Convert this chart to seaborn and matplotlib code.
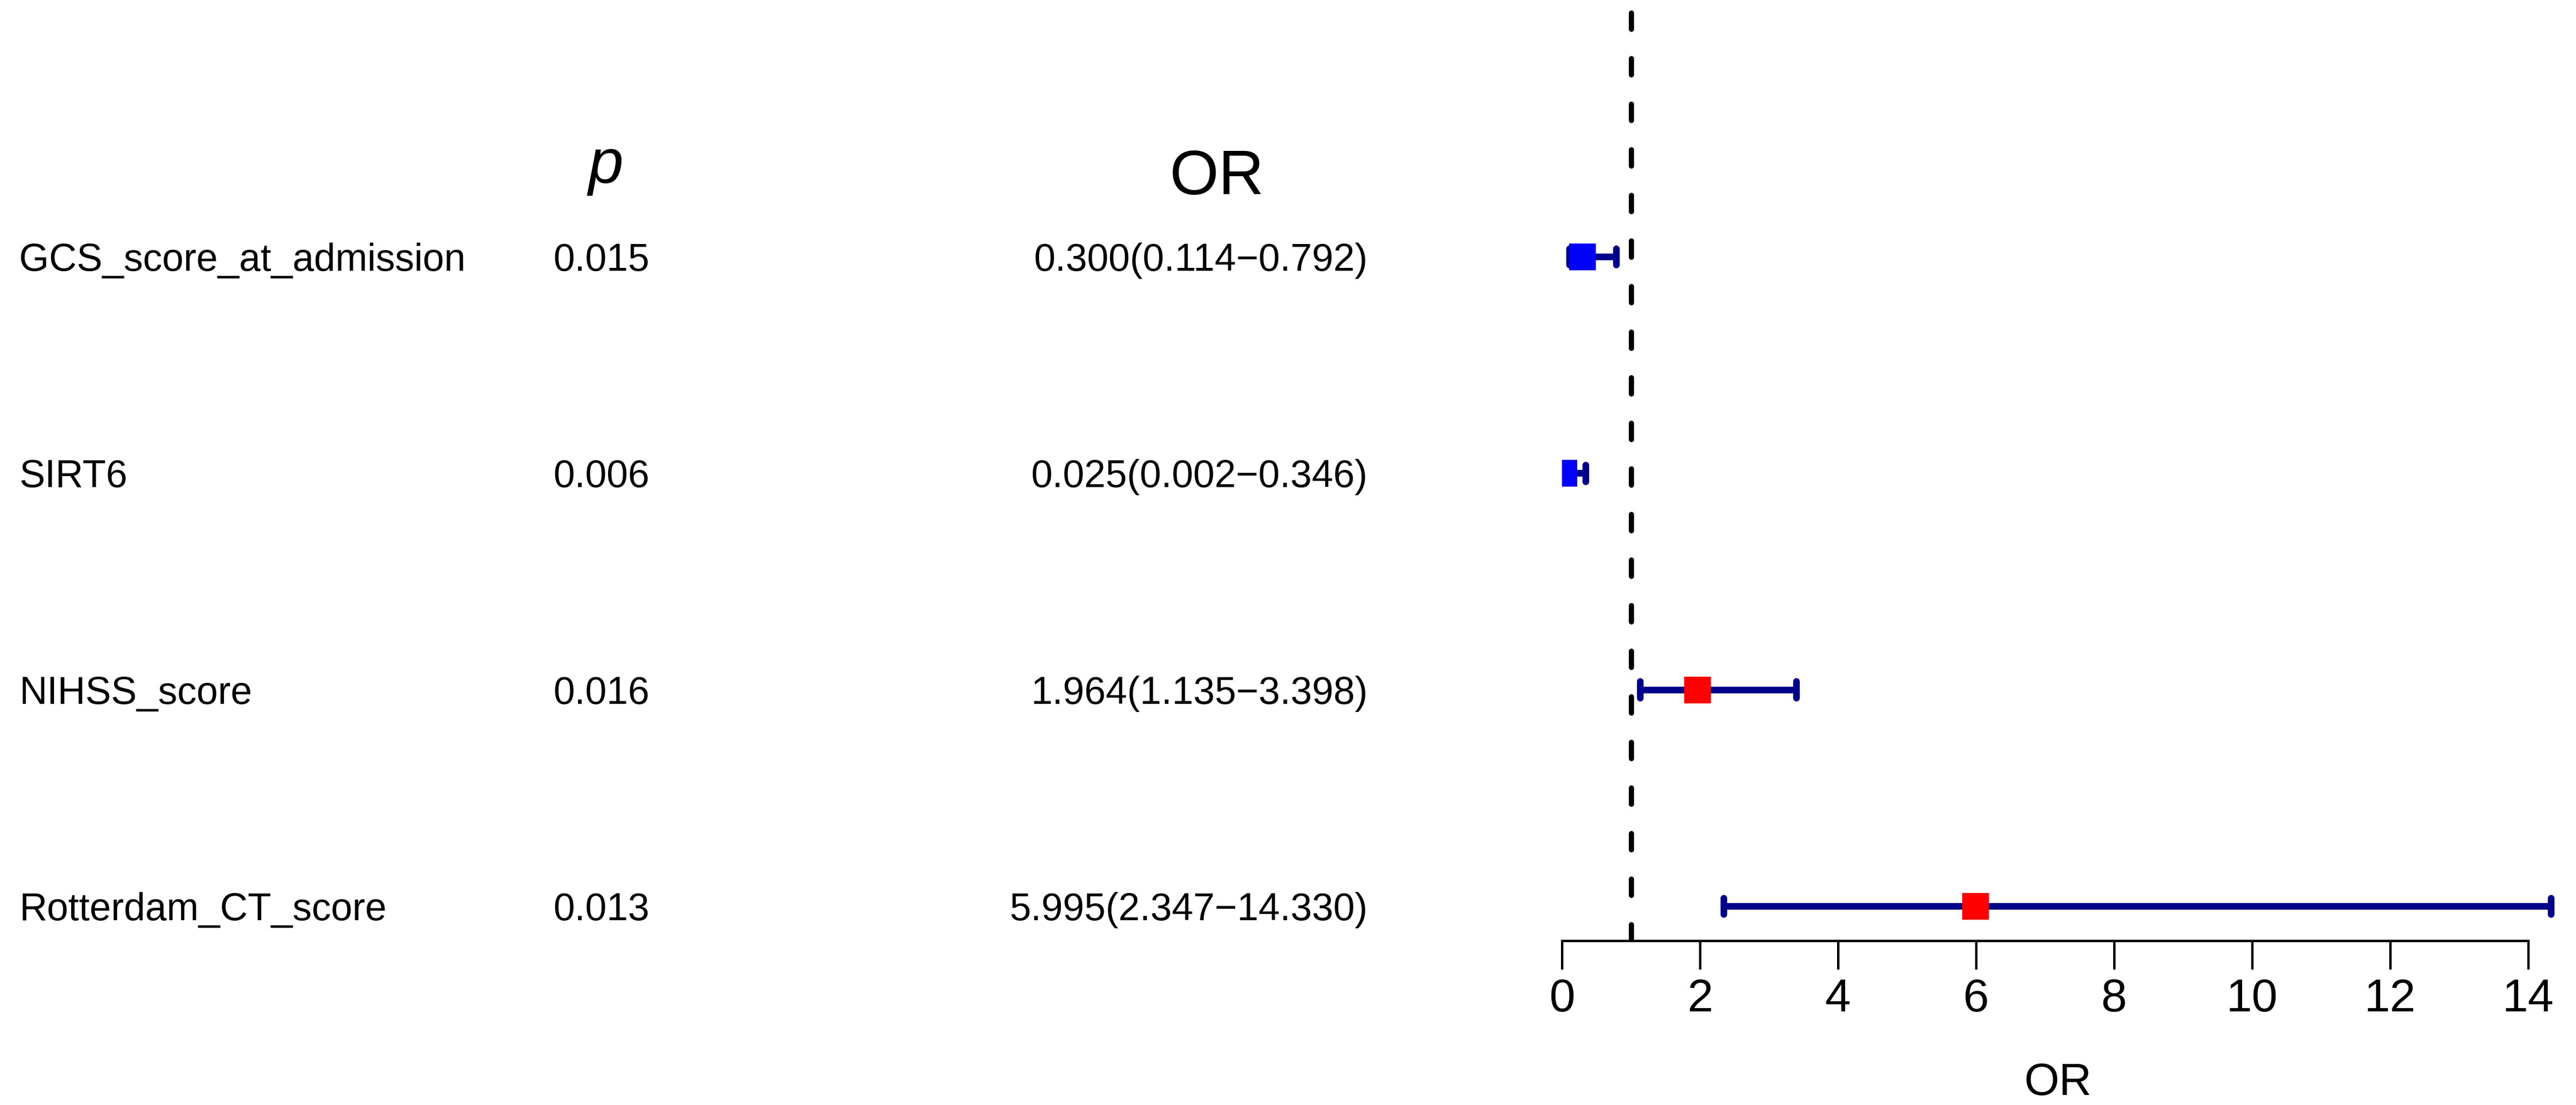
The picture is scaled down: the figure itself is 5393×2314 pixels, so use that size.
import matplotlib
matplotlib.use('Agg')
import matplotlib.pyplot as plt
import matplotlib.transforms as mtransforms
import seaborn as sns
import pandas as pd

# Data -------------------------------------------------------------------------

variables = ['GCS_score_at_admission', 'SIRT6', 'NIHSS_score', 'Rotterdam_CT_score']
p_values = ['0.015', '0.006', '0.016', '0.013']
odds = [0.300, 0.025, 1.964, 5.995]
lower = [0.114, 0.002, 1.135, 2.347]
upper = [0.792, 0.346, 3.398, 14.330]
x_ticks = [0, 2, 4, 6, 8, 10, 12, 14]

df = pd.DataFrame({'var': variables, 'p': p_values, 'OR': odds,
                   'lo': lower, 'hi': upper})
df['pos'] = list(range(len(df), 0, -1))
df['effect'] = ['protective' if o < 1 else 'risk' for o in df['OR']]
df['label'] = [f'{o:.3f}({l:.3f}\u2212{h:.3f})' for o, l, h in zip(df['OR'], df['lo'], df['hi'])]

# Layout (pixel based, figure is 5393 x 2314 at dpi 100) ------------------------

W, H = 5393, 2314
px_unit = 144.5          # pixels per OR unit
row_px = 453.3           # pixels per row
x0_px, axis_px = 3270, 1970

sns.set_theme(style='white')
plt.rcParams['font.family'] = ['Liberation Sans', 'DejaVu Sans']
plt.rcParams['text.color'] = 'black'
plt.rcParams['axes.labelcolor'] = 'black'
plt.rcParams['xtick.color'] = 'black'

fig = plt.figure(figsize=(W / 100, H / 100), dpi=100)
ax = fig.add_axes([x0_px / W, 1 - axis_px / H, (W - x0_px) / W, axis_px / H])
ax.set_xlim(0, (W - x0_px) / px_unit)
y_top = 1 + 1898 / row_px
ax.set_ylim(y_top - axis_px / row_px, y_top)

# reference line at OR = 1
ax.axvline(1, color='black', lw=7.9, linestyle=(0, (3.1, 5.6)),
           dash_capstyle='round', zorder=1)

# confidence intervals
ax.hlines(df['pos'], df['lo'], df['hi'], color='#00008B', lw=10, zorder=2)
cap = 0.038
ax.vlines(df['lo'], df['pos'] - cap, df['pos'] + cap, color='#00008B', lw=10,
          capstyle='round', zorder=2)
ax.vlines(df['hi'], df['pos'] - cap, df['pos'] + cap, color='#00008B', lw=10,
          capstyle='round', zorder=2)

# point estimates
sns.scatterplot(data=df, x='OR', y='pos', hue='effect',
                palette={'protective': '#0000FF', 'risk': '#FF0000'},
                marker='s', s=1620, linewidth=0, legend=False, ax=ax, zorder=3)

ax.set_xticks(x_ticks)
ax.set_yticks([])
ax.set_xlabel('')
ax.set_ylabel('')
for side in ['left', 'top', 'right']:
    ax.spines[side].set_visible(False)
ax.spines['bottom'].set_bounds(0, 14)
ax.spines['bottom'].set_linewidth(3.6)
ax.spines['bottom'].set_color('black')
ax.tick_params(axis='x', direction='out', length=43, width=3.6, labelsize=70,
               pad=13, colors='black', labelcolor='black', bottom=True)

# Text columns -----------------------------------------------------------------

trans = mtransforms.blended_transform_factory(fig.transFigure, ax.transData)
base_off = 29 / row_px
for _, r in df.iterrows():
    y = r['pos'] - base_off
    ax.text(40 / W, y, r['var'], transform=trans, ha='left', va='baseline',
            fontsize=58, color='black')
    ax.text(1260 / W, y, r['p'], transform=trans, ha='center', va='baseline',
            fontsize=58, color='black')
    ax.text(2864 / W, y, r['label'], transform=trans, ha='right', va='baseline',
            fontsize=58, color='black')

fig.text(1268 / W, 1 - 383 / H, 'p', style='italic', fontsize=95,
         ha='center', va='baseline', color='black')
fig.text(2548 / W, 1 - 407 / H, 'OR', fontsize=95, ha='center', va='baseline',
         color='black')
fig.text(4308 / W, 1 - 2293 / H, 'OR', fontsize=68, ha='center', va='baseline',
         color='black')

fig.savefig('out.png', dpi=100)
